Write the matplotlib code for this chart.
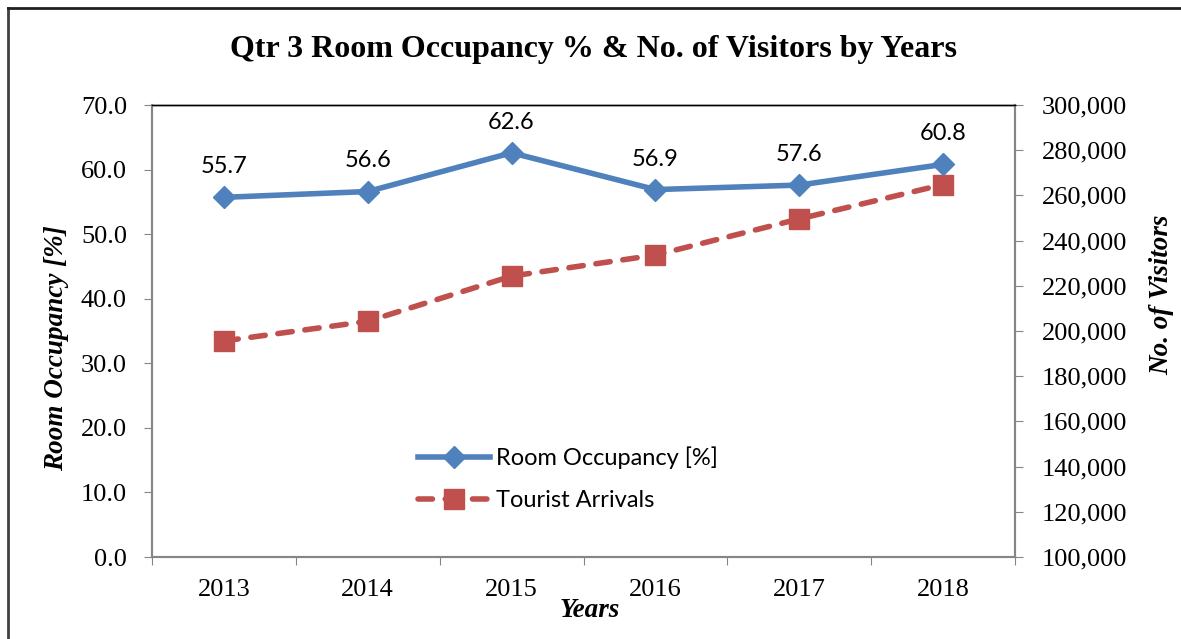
import matplotlib.pyplot as plt
from matplotlib.lines import Line2D
from matplotlib.ticker import FuncFormatter, FixedLocator

# data
years = ['2013', '2014', '2015', '2016', '2017', '2018']
occupancy = [55.7, 56.6, 62.6, 56.9, 57.6, 60.8]
arrivals = [195600, 204300, 224300, 233600, 249600, 264800]

BLUE = '#4F81BD'
RED = '#C0504D'
GREY = '#868686'
SERIF = 'Liberation Serif'
SANS = 'Lato'

fig = plt.figure(figsize=(11.81, 6.39), dpi=100)
ax = fig.add_axes([152 / 1181, 1 - 557 / 639, 863 / 1181, 452 / 639])
ax2 = ax.twinx()

x = list(range(len(years)))
l1, = ax.plot(x, occupancy, color=BLUE, lw=4, marker='D', ms=11,
              label='Room Occupancy [%]', zorder=3)
l2, = ax2.plot(x, arrivals, color=RED, lw=4, ls=(0, (2.6, 2.3)), marker='s',
               ms=14, dash_capstyle='round', label='Tourist Arrivals', zorder=3)
ax.set_zorder(ax2.get_zorder() + 1)
ax.patch.set_visible(False)

# data labels
for xi, v in zip(x, occupancy):
    ax.annotate(f'{v:.1f}', (xi, v), xytext=(0, 22), textcoords='offset points',
                ha='center', va='center', fontsize=17, family=SANS)

# axes ranges and ticks
ax.set_xlim(-0.5, len(years) - 0.5)
ax.set_ylim(0, 70)
ax2.set_ylim(100000, 300000)
ax.set_yticks(range(0, 71, 10))
ax.yaxis.set_major_formatter(FuncFormatter(lambda v, p: f'{v:.1f}'))
ax2.set_yticks(range(100000, 300001, 20000))
ax2.yaxis.set_major_formatter(FuncFormatter(lambda v, p: f'{int(v):,}'))

ax.xaxis.set_major_locator(FixedLocator([i - 0.5 for i in range(len(years) + 1)]))
ax.xaxis.set_major_formatter(FuncFormatter(lambda v, p: ''))
ax.xaxis.set_minor_locator(FixedLocator(x))
ax.set_xticklabels(years, minor=True)
ax.tick_params(axis='x', which='minor', length=0, pad=16)
ax.tick_params(axis='x', which='major', length=6, color=GREY)
ax.tick_params(axis='y', length=6, color=GREY, pad=12)
ax2.tick_params(axis='y', length=6, color=GREY, pad=13)

for a in (ax, ax2):
    for lab in a.get_xticklabels(which='both') + a.get_yticklabels():
        lab.set_fontfamily(SERIF)
        lab.set_fontsize(19)
    for s in a.spines.values():
        s.set_color(GREY)
        s.set_linewidth(1.5)
    a.spines['top'].set_color('black')
    a.spines['top'].set_linewidth(1)

ax.set_xlabel('Years', family=SERIF, fontsize=19.5, fontweight='bold',
              style='italic')
ax.xaxis.set_label_coords(0.5075, -0.09)
ax.set_ylabel('Room Occupancy [%]', family=SERIF, fontsize=19.5,
              fontweight='bold', style='italic')
ax.yaxis.set_label_coords(-0.096, 0.462)
ax2.set_ylabel('No. of Visitors', family=SERIF, fontsize=19.5,
               fontweight='bold', style='italic')
ax2.yaxis.set_label_coords(1.155, 0.58)

fig.suptitle('Qtr 3 Room Occupancy % & No. of Visitors by Years',
             x=0.5025, y=1 - 49 / 639, va='center',
             family=SERIF, fontsize=23, fontweight='bold')

ax.legend(handles=[l1, l2], loc='center', bbox_to_anchor=(0.4815, 0.1726),
          frameon=False, prop={'family': SANS, 'size': 17},
          handlelength=3.05, labelspacing=0.9, handletextpad=0.25)

# outer frame (top and left only visible)
fig.add_artist(Line2D([8 / 1181, 8 / 1181], [0, 1 - 8 / 639],
                      transform=fig.transFigure, color='#404040', lw=2))
fig.add_artist(Line2D([8 / 1181, 1], [1 - 8 / 639, 1 - 8 / 639],
                      transform=fig.transFigure, color='#202020', lw=2))

fig.savefig('out.png', dpi=100)
